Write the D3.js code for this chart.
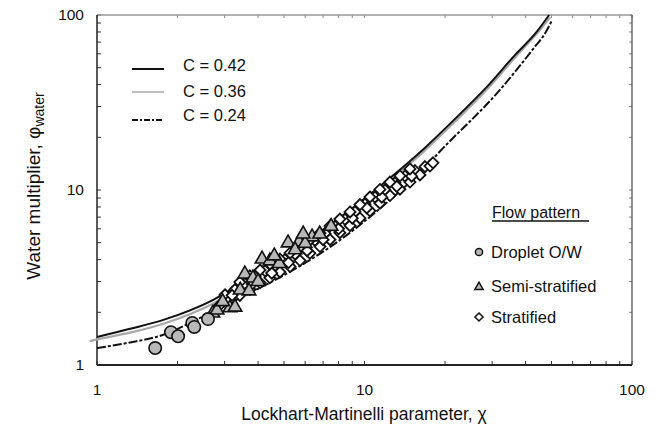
<!DOCTYPE html>
<html><head><meta charset="utf-8">
<script src="https://cdn.jsdelivr.net/npm/d3@7/dist/d3.min.js"></script>
<style>body{margin:0;background:#fff}svg{display:block}text{font-family:"Liberation Sans",Arial,sans-serif;fill:#111}</style>
</head><body><svg id="c" width="662" height="441"></svg>
<script>
// ---- data ----
const curveC042X = [1, 1.33, 1.77, 2.71, 3.73, 5.74, 8.83, 12.45, 16.8, 21.8, 28.2, 36.5, 44, 49];
const curveC042Y = [1.445, 1.61, 1.81, 2.35, 3.14, 4.79, 7.69, 11.7, 17.4, 25.5, 37.8, 59, 80, 100];
const curveC036X = [0.94, 1, 1.33, 1.77, 2.71, 3.73, 5.74, 8.83, 12.45, 16.8, 21.8, 28.2, 36.5, 44, 49.5];
const curveC036Y = [1.37, 1.40, 1.53, 1.72, 2.24, 3.0, 4.6, 7.4, 11.3, 16.8, 24.6, 36.5, 57, 78, 97];
const curveC024X = [1, 1.31, 1.75, 2.43, 3.73, 5.74, 7.43, 12.45, 15.8, 19.7, 31.3, 42, 48.1, 50];
const curveC024Y = [1.25, 1.34, 1.48, 1.86, 2.58, 3.68, 4.72, 8.77, 12.2, 17.4, 35.8, 62, 82, 92];

const dropletX = [1.65, 1.89, 2.01, 2.27, 2.31, 2.60];
const dropletY = [1.25, 1.54, 1.46, 1.74, 1.65, 1.83];

const semiX = [2.71, 2.81, 3.14, 3.28, 3.43, 3.57, 3.83, 4.14, 4.43, 5.18, 5.69, 6.37, 2.95, 3.7, 4.0, 4.8, 5.5, 6.0, 6.8, 7.5, 4.6, 5.9];
const semiY = [1.98, 2.06, 2.12, 2.14, 2.68, 3.31, 3.14, 4.03, 3.93, 4.98, 5.05, 5.39, 2.3, 2.65, 3.0, 3.8, 4.55, 4.95, 5.6, 6.2, 4.2, 5.6];

const stratX = [2.88, 3.01, 3.14, 3.28, 3.42, 3.57, 3.73, 3.90, 4.07, 4.25, 4.43, 4.63, 4.83, 5.04, 5.27, 5.50, 5.74, 5.99, 6.25, 6.53, 6.82, 7.12, 7.43, 7.76, 8.09, 8.45, 8.83, 9.21, 9.62, 10.04, 10.48, 10.94, 11.42, 11.93, 12.45, 13.0, 13.57, 14.17, 14.79, 15.44, 16.12, 16.83, 17.57, 18.03,
  3.2, 3.8, 4.5, 5.2, 6.1, 7.0, 8.0, 9.0, 10.2, 11.6, 13.2, 15.0,
  3.42, 3.73, 4.07, 4.43, 4.83, 5.27, 5.74, 6.25, 6.82, 7.43, 8.09, 8.83, 9.62, 10.48, 11.42, 12.45, 13.57, 14.79];
const stratY = [2.2, 2.52, 2.35, 2.7, 2.5, 2.92, 2.7, 3.2, 2.95, 3.45, 3.15, 3.7, 3.4, 4.0, 3.65, 4.3, 3.95, 4.7, 4.35, 5.15, 4.75, 5.65, 5.2, 6.2, 5.7, 6.8, 6.25, 7.5, 6.9, 8.3, 7.6, 9.1, 8.4, 10.0, 9.3, 11.0, 10.1, 12.0, 11.1, 12.9, 12.2, 13.6, 13.7, 14.3,
  2.5, 2.9, 3.35, 3.85, 4.5, 5.2, 6.0, 6.9, 7.9, 9.1, 10.5, 12.0,
  2.98, 3.23, 3.49, 3.78, 4.03, 4.37, 4.73, 5.18, 5.67, 6.23, 6.82, 7.49, 8.26, 9.12, 10.07, 11.1, 12.05, 13.2];

const xTickLabels = ["1", "10", "100"];
const yTickLabels = ["1", "10", "100"];
const curveLabels = ["C = 0.42", "C = 0.36", "C = 0.24"];
const patternLabels = ["Droplet O/W", "Semi-stratified", "Stratified"];

// ---- drawing ----
const svg = d3.select("#c");
const L = 97, R = 632, T = 15, B = 365;
const x = d3.scaleLog().domain([1, 100]).range([L, R]);
const y = d3.scaleLog().domain([1, 100]).range([B, T]);

// minor ticks, inward on all four sides
const minor = [];
for (let d = 1; d < 100; d *= 10) for (let k = 1; k < 10; k++) minor.push(d * k);
minor.push(100);
const tk = svg.append("g").attr("stroke", "#333").attr("stroke-width", 1);
minor.forEach(v => {
  tk.append("line").attr("x1", x(v)).attr("x2", x(v)).attr("y1", B).attr("y2", B - 4);
  tk.append("line").attr("x1", x(v)).attr("x2", x(v)).attr("y1", T).attr("y2", T + 3).attr("stroke", "#888");
  tk.append("line").attr("y1", y(v)).attr("y2", y(v)).attr("x1", L).attr("x2", L + 4);
  tk.append("line").attr("y1", y(v)).attr("y2", y(v)).attr("x1", R).attr("x2", R - 3).attr("stroke", "#888");
});
// frame
svg.append("line").attr("x1", L).attr("x2", R).attr("y1", T).attr("y2", T).attr("stroke", "#999").attr("stroke-width", 1.5);
svg.append("line").attr("x1", R).attr("x2", R).attr("y1", T).attr("y2", B).attr("stroke", "#444").attr("stroke-width", 1.2);
svg.append("line").attr("x1", L).attr("x2", R).attr("y1", B).attr("y2", B).attr("stroke", "#222").attr("stroke-width", 1.8);
svg.append("line").attr("x1", L).attr("x2", L).attr("y1", T).attr("y2", B).attr("stroke", "#222").attr("stroke-width", 1.5);

// tick labels
const tickVals = [1, 10, 100];
svg.append("g").selectAll("text").data(tickVals).join("text")
  .attr("x", d => x(d)).attr("y", 395).attr("text-anchor", "middle").attr("font-size", 15.5)
  .text((d, i) => xTickLabels[i]);
svg.append("g").selectAll("text").data(tickVals).join("text")
  .attr("x", 84).attr("y", d => y(d) + 5).attr("text-anchor", "end").attr("font-size", 15.5)
  .text((d, i) => yTickLabels[i]);

// axis titles
svg.append("text").attr("x", 364).attr("y", 420).attr("text-anchor", "middle").attr("font-size", 17.5)
  .text("Lockhart-Martinelli parameter, χ");
const yt = svg.append("text").attr("transform", "translate(40,186) rotate(-90)").attr("text-anchor", "middle").attr("font-size", 19);
yt.append("tspan").text("Water multiplier, φ");
yt.append("tspan").attr("font-size", 14).attr("dy", 4).text("water");

// curves
const line = d3.line().x(d => x(d[0])).y(d => y(d[1])).curve(d3.curveMonotoneX);
const zip = (a, b) => a.map((v, i) => [v, b[i]]);
svg.append("path").attr("d", line(zip(curveC036X, curveC036Y))).attr("fill", "none")
  .attr("stroke", "#a8a8a8").attr("stroke-width", 2.2);
svg.append("path").attr("d", line(zip(curveC042X, curveC042Y))).attr("fill", "none")
  .attr("stroke", "#111").attr("stroke-width", 2);
svg.append("path").attr("d", line(zip(curveC024X, curveC024Y))).attr("fill", "none")
  .attr("stroke", "#111").attr("stroke-width", 2).attr("stroke-dasharray", "9,2,3,2");

// points
const diamond = "M0,-5.5L5.5,0L0,5.5L-5.5,0Z";
svg.append("g").selectAll("path").data(zip(stratX, stratY)).join("path")
  .attr("d", diamond).attr("transform", d => `translate(${x(d[0])},${y(d[1])})`)
  .attr("fill", "#fff").attr("stroke", "#111").attr("stroke-width", 1.8);
const tri = d3.symbol().type(d3.symbolTriangle).size(80)();
svg.append("g").selectAll("path").data(zip(semiX, semiY)).join("path")
  .attr("d", tri).attr("transform", d => `translate(${x(d[0])},${y(d[1])})`)
  .attr("fill", "#b8b8b8").attr("stroke", "#111").attr("stroke-width", 1.6);
svg.append("g").selectAll("circle").data(zip(dropletX, dropletY)).join("circle")
  .attr("cx", d => x(d[0])).attr("cy", d => y(d[1])).attr("r", 6.2)
  .attr("fill", "#b8b8b8").attr("stroke", "#111").attr("stroke-width", 1.6);

// curve legend
const lg = [
  {y: 69, ty: 71, stroke: "#111", dash: null},
  {y: 92, ty: 97, stroke: "#a8a8a8", dash: null},
  {y: 120, ty: 121, stroke: "#111", dash: "6,2,2,2"}
];
lg.forEach((d, i) => {
  svg.append("line").attr("x1", 132).attr("x2", 164).attr("y1", d.y).attr("y2", d.y)
    .attr("stroke", d.stroke).attr("stroke-width", i === 1 ? 1.5 : 2).attr("stroke-dasharray", d.dash);
  svg.append("text").attr("x", 183).attr("y", d.ty).attr("font-size", 16.5).text(curveLabels[i]);
});

// flow pattern legend
svg.append("text").attr("x", 492).attr("y", 218).attr("font-size", 16).text("Flow  pattern");
svg.append("line").attr("x1", 492).attr("x2", 589).attr("y1", 221).attr("y2", 221).attr("stroke", "#111").attr("stroke-width", 1.3);
const ly = [252, 286, 317];
svg.append("circle").attr("cx", 479).attr("cy", ly[0]).attr("r", 3.6).attr("fill", "#b8b8b8").attr("stroke", "#111").attr("stroke-width", 1.5);
svg.append("path").attr("d", d3.symbol().type(d3.symbolTriangle).size(30)()).attr("transform", `translate(479,${ly[1] + 1})`)
  .attr("fill", "#b8b8b8").attr("stroke", "#111").attr("stroke-width", 1.5);
svg.append("path").attr("d", "M0,-4L4,0L0,4L-4,0Z").attr("transform", `translate(479,${ly[2]})`)
  .attr("fill", "#fff").attr("stroke", "#111").attr("stroke-width", 1.5);
patternLabels.forEach((t, i) => {
  svg.append("text").attr("x", 491).attr("y", ly[i] + 6).attr("font-size", 16.5).text(t);
});
</script></body></html>
